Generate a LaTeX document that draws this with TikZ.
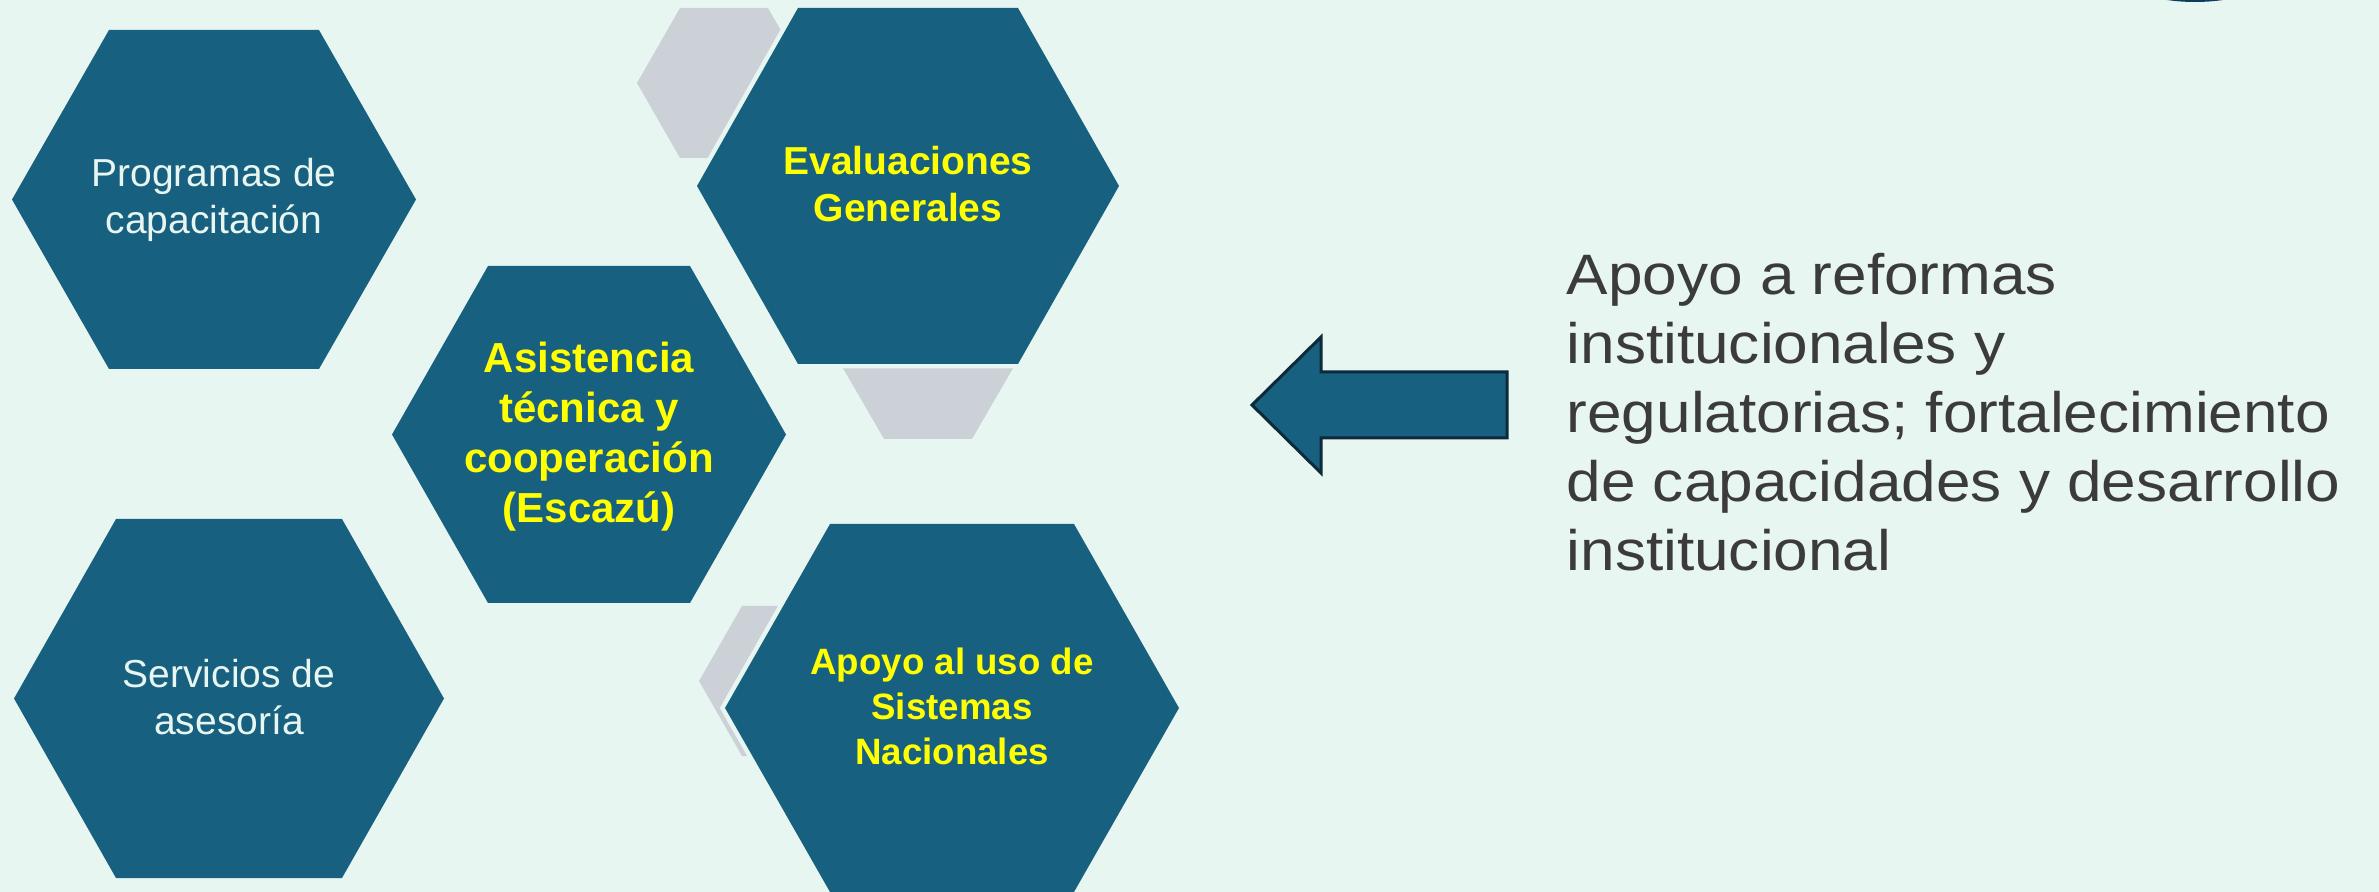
\documentclass[tikz,border=0pt]{standalone}
\usepackage{fontspec}
\setmainfont{Liberation Sans}
\newfontfamily\widefont[FakeStretch=1.09]{Liberation Sans}
\definecolor{bgc}{HTML}{E8F6F1}
\definecolor{hexblue}{HTML}{176080}
\definecolor{hexgray}{HTML}{CCD1D8}
\definecolor{yel}{HTML}{FFFF00}
\definecolor{txtlight}{HTML}{E8F6F1}
\definecolor{txtdark}{HTML}{3B3B3B}
\definecolor{arrowline}{HTML}{0C2A3A}
\definecolor{logo}{HTML}{0B3D5C}
\newcommand{\drawhex}[6]{\path[#6] (#1-#3,#2) -- (#1-#4,#2-#5) -- (#1+#4,#2-#5) -- (#1+#3,#2) -- (#1+#4,#2+#5) -- (#1-#4,#2+#5) -- cycle;}
\tikzset{
  hexfill/.style={fill=hexblue, preaction={draw=bgc, line width=2.7pt, line join=miter}},
  grayhex/.style={fill=hexgray},
  whitetxt/.style={text=txtlight, align=center, inner sep=0pt, font=\fontsize{11.7pt}{14pt}\selectfont},
  yellowtxt/.style={text=yel, align=center, inner sep=0pt, font=\bfseries\fontsize{12.6pt}{15pt}\selectfont},
  blockarrow/.style={fill=hexblue, draw=arrowline, line width=0.9pt, line join=miter},
}
\begin{document}
\begin{tikzpicture}[x=0.3pt, y=-0.3pt]
\useasboundingbox (0,0) rectangle (2379,892);
\begin{scope}
\clip (0,0) rectangle (2379,892);
\fill[bgc] (0,0) rectangle (2379,892);
% small dark shape at the top right edge
\fill[logo] (2195,-195) circle (197);
% gray background hexagons
\drawhex{724}{83}{87}{44}{75}{grayhex}
\drawhex{928}{363}{88}{44}{76}{grayhex}
\drawhex{786}{681}{87}{44}{75}{grayhex}
% blue hexagons
\drawhex{214}{199.5}{202}{105}{169.5}{hexfill}
\drawhex{908}{186}{211}{110}{178}{hexfill}
\drawhex{589}{434.5}{197}{101}{168.5}{hexfill}
\drawhex{229}{698.5}{215}{113}{179.5}{hexfill}
\drawhex{952}{708}{227}{122}{184}{hexfill}
\end{scope}
% texts
\node[whitetxt] (prog) at (214,200) {Programas de\\capacitación};
\node[yellowtxt, font=\bfseries\fontsize{11.7pt}{14.1pt}\selectfont] (eval) at (908,184) {Evaluaciones\\Generales};
\node[yellowtxt] (asis) at (589,437) {Asistencia\\técnica y\\cooperación\\(Escazú)};
\node[whitetxt] (serv) at (229,697) {Servicios de\\asesoría};
\node[yellowtxt, font=\bfseries\fontsize{11pt}{13.5pt}\selectfont] (apoyo) at (952,706) {Apoyo al uso de\\Sistemas\\Nacionales};
% block arrow
\draw[blockarrow] (1252,405) -- (1321,337) -- (1321,372) -- (1507,372) -- (1507,438) -- (1321,438) -- (1321,473) -- cycle;
% description
\node[anchor=base west, inner sep=0pt, text=txtdark] (desc) at (1566,295) {\parbox[t]{260pt}{\raggedright\widefont\fontsize{17.1pt}{20.7pt}\selectfont Apoyo a reformas\\institucionales y\\regulatorias; fortalecimiento\\de capacidades y desarrollo\\institucional}};
\end{tikzpicture}
\end{document}
